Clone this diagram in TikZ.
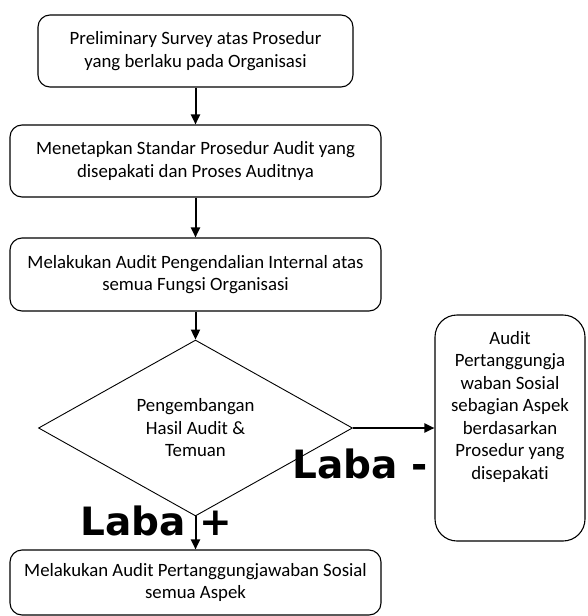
\documentclass[tikz,border=0pt]{standalone}
\usepackage{fontspec}
\setmainfont{Carlito}[Ligatures=NoCommon]
\newfontfamily\labafont{DejaVu Sans}
\usetikzlibrary{shapes.geometric, arrows.meta, positioning}

\begin{document}
\begin{tikzpicture}[x=1pt, y=-1pt,
    block/.style={draw, line width=1.1pt, rounded corners=12pt, minimum width=371pt, minimum height=72pt, inner sep=0pt, align=center, font=\fontsize{18.8}{22.5}\selectfont},
    decision/.style={draw, diamond, line width=0.9pt, minimum width=314pt, minimum height=170pt, inner sep=0pt, align=center, font=\fontsize{18.8}{22.5}\selectfont},
    flow/.style={-{Triangle[length=10pt, width=9pt]}, line width=2pt},
    laba/.style={font=\labafont\bfseries\fontsize{39}{39}\selectfont, inner sep=0pt, anchor=base west}]

    \useasboundingbox (0,0) rectangle (587,616);

    % Blocks
    \node[block, minimum width=315pt] (survey) at (195.5,51) {Preliminary Survey atas Prosedur\\yang berlaku pada Organisasi};
    \node[block] (standar) at (195.5,161) {Menetapkan Standar Prosedur Audit yang\\disepakati dan Proses Auditnya};
    \node[block, minimum height=73pt] (internal) at (195.5,274.5) {Melakukan Audit Pengendalian Internal atas\\semua Fungsi Organisasi};
    \node[decision] (hasil) at (195.5,428) {Pengembangan\\Hasil Audit \&\\Temuan};
    \node[block, minimum height=65pt] (semua) at (195.5,582.5) {Melakukan Audit Pertanggungjawaban Sosial\\semua Aspek};
    \node[block, rounded corners=22pt, minimum width=150pt, minimum height=226pt] (sebagian) at (510,428) {\parbox[c][194pt][t]{148pt}{\centering Audit\\Pertanggungja\\waban Sosial\\sebagian Aspek\\berdasarkan\\Prosedur yang\\disepakati}};

    % Arrows
    \draw[flow] (survey) -- (standar);
    \draw[flow] (standar) -- (internal);
    \draw[flow] (internal) -- (hasil);
    \draw[flow] (hasil) -- (semua);
    \draw[flow] (hasil) -- (sebagian);

    % Labels
    \node[laba] (minus) at (292,478) {Laba -};
    \node[laba] (plus) at (80,535) {Laba +};
\end{tikzpicture}
\end{document}
